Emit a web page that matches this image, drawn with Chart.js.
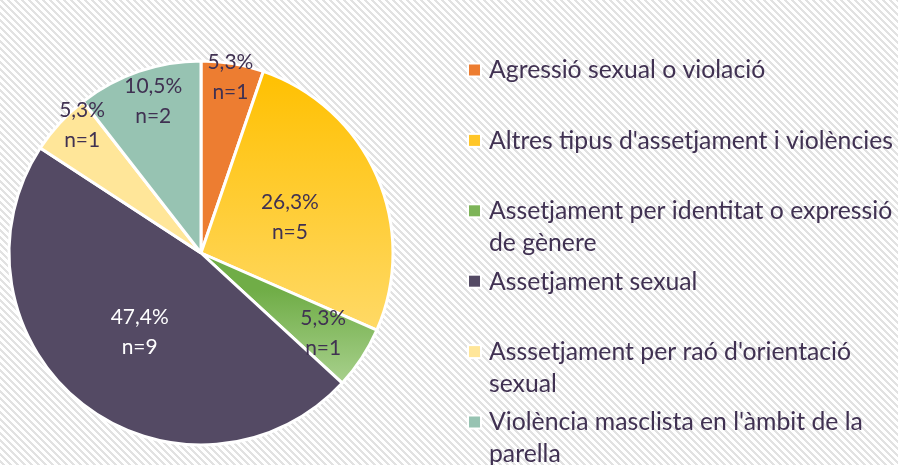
<!DOCTYPE html>
<html><head><meta charset="utf-8">
<style>html,body{margin:0;padding:0;background:#fff;}#wrap{position:relative;width:898px;height:465px;}</style>
<script src="https://cdn.jsdelivr.net/npm/chart.js@4.4.0/dist/chart.umd.min.js"></script>
</head><body><div id="wrap"><canvas id="c" width="898" height="465"></canvas></div>
<script>
// ---- data ----
const categories = [
  "Agressió sexual o violació",
  "Altres tipus d'assetjament i violències",
  "Assetjament per identitat o expressió de gènere",
  "Assetjament sexual",
  "Asssetjament per raó d'orientació sexual",
  "Violència masclista en l'àmbit de la parella"
];
const counts = [1, 5, 1, 9, 1, 2];
const percentLabels = ["5,3%", "26,3%", "5,3%", "47,4%", "5,3%", "10,5%"];

// ---- styles ----
const flatColors = ['#ED7D31', '#FFC629', '#7DB458', '#544A64', '#FFE699', '#97C3B2'];
const labelColors = ['#403152', '#403152', '#403152', '#FFFFFF', '#403152', '#403152'];
const labelRadiusFrac = [0.93, 0.50, 0.76, 0.52, 0.91, 0.83];
const labelAngleOffsetDeg = [0, 1.5, 0, 0, 4.5, 1.5];
const textColor = '#403152';
const FONT = 'Lato, "Open Sans", sans-serif';

function fitSize(ctx, text, targetW, weight) {
  ctx.font = (weight || '') + ' 100px ' + FONT;
  return 100 * targetW / ctx.measureText(text).width;
}

const bgPlugin = {
  id: 'bg',
  beforeDraw(chart) {
    const c = chart.ctx;
    const p = 7;
    const tile = document.createElement('canvas');
    tile.width = p; tile.height = p;
    const t = tile.getContext('2d');
    t.fillStyle = '#ffffff'; t.fillRect(0, 0, p, p);
    t.fillStyle = '#e2e2e2';
    for (let y = 0; y < p; y++) for (let x = 0; x < p; x++) {
      const d = ((x - y) % p + p) % p;
      if (d < 3) t.fillRect(x, y, 1, 1);
    }
    c.save();
    c.fillStyle = c.createPattern(tile, 'repeat');
    c.fillRect(0, 0, chart.width, chart.height);
    c.restore();
  }
};

const labelPlugin = {
  id: 'sliceLabels',
  afterDatasetsDraw(chart) {
    const c = chart.ctx;
    const meta = chart.getDatasetMeta(0);
    const fs = fitSize(c, '26,3%', 58);
    c.save();
    c.font = fs + 'px ' + FONT;
    c.textAlign = 'center';
    c.textBaseline = 'middle';
    meta.data.forEach((arc, i) => {
      const pr = arc.getProps(['x', 'y', 'startAngle', 'endAngle', 'outerRadius'], true);
      const mid = (pr.startAngle + pr.endAngle) / 2 + labelAngleOffsetDeg[i] * Math.PI / 180;
      const r = pr.outerRadius * labelRadiusFrac[i];
      const x = pr.x + Math.cos(mid) * r;
      const y = pr.y + Math.sin(mid) * r;
      c.fillStyle = labelColors[i];
      c.fillText(percentLabels[i], x, y - 15);
      c.fillText('n=' + counts[i], x, y + 15);
    });
    c.restore();
  }
};

const legendPlugin = {
  id: 'sideLegend',
  afterDraw(chart) {
    const c = chart.ctx;
    const fs = fitSize(c, categories[1], 404);
    c.save();
    c.font = fs + 'px ' + FONT;
    const maxW = 420;
    const x0 = 469, tx = 489;
    categories.forEach((label, i) => {
      const cy = 69.5 + i * 70.4;
      const words = label.split(' ');
      const lines = []; let cur = '';
      words.forEach(w => {
        const test = cur ? cur + ' ' + w : w;
        if (c.measureText(test).width > maxW && cur) { lines.push(cur); cur = w; } else cur = test;
      });
      lines.push(cur);
      c.fillStyle = '#ffffff';
      c.fillRect(x0 - 2, cy - 7, 15, 15);
      c.fillStyle = flatColors[i];
      c.fillRect(x0, cy - 5, 11, 11);
      c.fillStyle = textColor;
      c.textAlign = 'left';
      c.textBaseline = 'alphabetic';
      lines.forEach((ln, k) => c.fillText(ln, tx, cy + 0.36 * fs + k * 32));
    });
    c.restore();
  }
};

new Chart(document.getElementById('c'), {
  type: 'pie',
  data: {
    labels: categories,
    datasets: [{
      data: counts,
      backgroundColor: (ctx) => {
        const i = ctx.dataIndex;
        const area = ctx.chart.chartArea;
        if (!area) return flatColors[i];
        const g2 = ctx.chart.ctx;
        if (i === 1) {
          const g = g2.createLinearGradient(0, 70, 0, 330);
          g.addColorStop(0, '#FFC000'); g.addColorStop(1, '#FFD966');
          return g;
        }
        if (i === 2) {
          const g = g2.createLinearGradient(0, 290, 0, 385);
          g.addColorStop(0, '#70AD47'); g.addColorStop(1, '#A9D18E');
          return g;
        }
        return flatColors[i];
      },
      borderColor: '#ffffff',
      borderWidth: 3
    }]
  },
  options: {
    responsive: false,
    animation: false,
    devicePixelRatio: 1,
    layout: { padding: { left: 7.5, top: 59.5, right: 503.5, bottom: 18.5 } },
    plugins: { legend: { display: false }, tooltip: { enabled: false }, title: { display: false } }
  },
  plugins: [bgPlugin, labelPlugin, legendPlugin]
});
</script>
</body></html>
